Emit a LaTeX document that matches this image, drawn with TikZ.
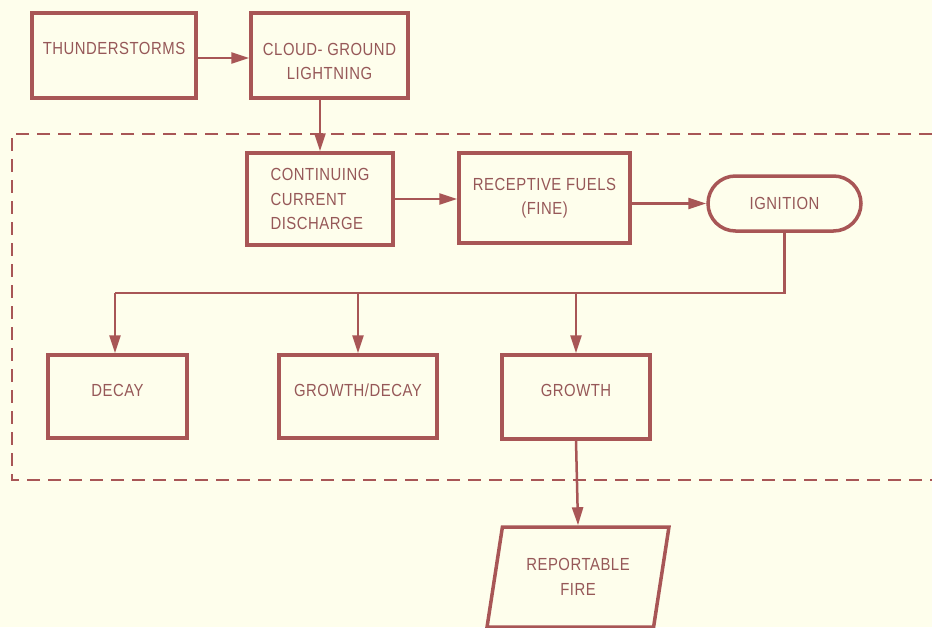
\documentclass[tikz,border=0pt]{standalone}
\usepackage{fontspec}
\setmainfont{Liberation Sans}[FakeStretch=0.85,LetterSpace=3]
\usetikzlibrary{arrows.meta,shapes.misc,shapes.geometric}
\definecolor{ink}{RGB}{168,86,86}
\definecolor{txt}{RGB}{150,88,88}
\definecolor{paper}{RGB}{254,254,236}
\tikzset{
  box/.style={draw=ink, line width=3.5pt, rectangle, fill=paper, text=txt, align=center, inner sep=2pt},
  every label/.style={text=txt, align=center, inner sep=0pt},
  conn/.style={draw=ink, line width=2.5pt},
  arr/.style={conn, -{Triangle[length=18pt,width=11pt]}},
  bnd/.style={draw=ink, line width=2pt, dash pattern=on 13pt off 8pt},
}
\begin{document}
\begin{tikzpicture}[x=1pt,y=-1pt, font=\fontsize{17.5}{24.5}\selectfont]
\useasboundingbox (0,0) rectangle (932,627);
\fill[paper] (0,0) rectangle (932,627);
% dashed boundary (open at the right)
\coordinate (dTR) at (932,134);
\coordinate (dTL) at (12,134);
\coordinate (dBL) at (12,480);
\coordinate (dBR) at (932,480);
\draw[bnd] (dTR) -- (dTL) -- (dBL) -- (dBR);
% nodes
\node[box, minimum width=164pt, minimum height=85pt, label={[yshift=7.5pt]center:THUNDERSTORMS}] (thunder) at (114,55.5) {};
\node[box, minimum width=157pt, minimum height=85pt, label={[yshift=-6pt]center:CLOUD- GROUND\\LIGHTNING}] (cloud) at (329.5,55.5) {};
\node[box, minimum width=146pt, minimum height=92pt, align=left] (cont) at (320,199) {CONTINUING\\CURRENT\\DISCHARGE};
\node[box, minimum width=171pt, minimum height=90pt] (rec) at (544.5,198) {RECEPTIVE FUELS\\(FINE)};
\node[box, rounded rectangle, minimum width=157pt, minimum height=55pt] (ign) at (784.5,203.5) {IGNITION};
\node[box, minimum width=139pt, minimum height=83pt, label={[yshift=6.5pt]center:DECAY}] (decay) at (117.5,396.5) {};
\node[box, minimum width=158pt, minimum height=83pt, label={[yshift=6.5pt]center:GROWTH/DECAY}] (gd) at (358,396.5) {};
\node[box, minimum width=148pt, minimum height=84pt, label={[yshift=7pt]center:GROWTH}] (gr) at (576,397) {};
\node[box, trapezium, trapezium left angle=75, trapezium right angle=105, trapezium stretches=true, minimum width=182pt, minimum height=100pt] (fire) at (578,577) {REPORTABLE\\FIRE};
% connectors
\coordinate (busL) at (115,293);
\draw[arr] ([yshift=-2.5pt]thunder.east) -- ([yshift=-2.5pt]cloud.west);
\draw[arr] (cloud.south -| cont.north) -- (cont.north);
\draw[arr] (cont.east) -- (rec.west |- cont.east);
\draw[arr] (rec.east |- ign.west) -- (ign.west);
\draw[conn] (ign.south) |- (busL);
\draw[arr] (busL) -- (busL |- decay.north);
\draw[arr] (gd.north |- busL) -- (gd.north);
\draw[arr] (gr.north |- busL) -- (gr.north);
\draw[arr] (gr.south) -- (fire.north);
\end{tikzpicture}
\end{document}
